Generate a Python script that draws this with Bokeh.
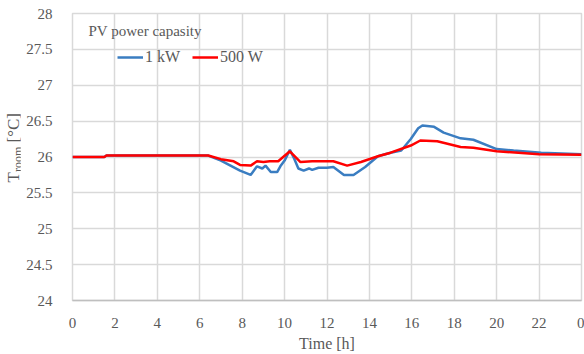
from bokeh.plotting import figure
from bokeh.models import Legend, LegendItem, Label, FixedTicker, Range1d, Div
from bokeh.layouts import row
from bokeh.embed import file_html
from bokeh.resources import INLINE

# ---- data ----
t_1kw = [0, 1.5, 1.6, 6.4, 7.0, 7.45, 7.9, 8.4, 8.7, 8.95, 9.1, 9.35, 9.65, 9.8,
         10.0, 10.25, 10.45, 10.65, 10.9, 11.15, 11.3, 11.6, 12.0, 12.3, 12.8,
         13.25, 13.8, 14.4, 15.0, 15.5, 15.95, 16.3, 16.5, 17.05, 17.5, 18.3,
         18.9, 20.0, 20.8, 22.1, 24.0]
T_1kw = [26.00, 26.00, 26.02, 26.02, 25.95, 25.88, 25.81, 25.75, 25.87, 25.84,
         25.88, 25.79, 25.79, 25.87, 25.95, 26.10, 25.98, 25.84, 25.81, 25.84,
         25.82, 25.85, 25.85, 25.86, 25.75, 25.75, 25.86, 26.01, 26.06, 26.09,
         26.25, 26.40, 26.44, 26.42, 26.34, 26.26, 26.24, 26.11, 26.09, 26.06,
         26.04]

t_500w = [0, 1.5, 1.6, 6.4, 7.0, 7.6, 7.9, 8.4, 8.7, 9.0, 9.3, 9.7, 10.25,
          10.75, 11.3, 12.3, 12.95, 13.6, 14.4, 15.0, 15.95, 16.4, 17.2, 18.3,
          18.9, 20.0, 22.0, 24.0]
T_500w = [26.00, 26.00, 26.02, 26.02, 25.97, 25.94, 25.89, 25.88, 25.94, 25.93,
          25.94, 25.94, 26.08, 25.93, 25.94, 25.94, 25.88, 25.93, 26.01, 26.06,
          26.16, 26.23, 26.22, 26.14, 26.13, 26.08, 26.04, 26.03]

x_ticks = [0, 2, 4, 6, 8, 10, 12, 14, 16, 18, 20, 22, 24]
x_tick_labels = ["0", "2", "4", "6", "8", "10", "12", "14", "16", "18", "20", "22", "0"]
y_ticks = [24, 24.5, 25, 25.5, 26, 26.5, 27, 27.5, 28]
y_tick_labels = ["24", "24.5", "25", "25.5", "26", "26.5", "27", "27.5", "28"]
series_names = ["1 kW", "500 W"]
legend_title = "PV power capasity"
x_label = "Time [h]"

FONT = "Liberation Serif"
GREY = "#595959"
LEFT_W = 20

p = figure(width=584 - LEFT_W, height=354, output_backend="svg", toolbar_location=None,
           x_range=Range1d(0, 24), y_range=Range1d(24, 28))
p.min_border_left = 72 - LEFT_W
p.min_border_right = 3
p.min_border_top = 13
p.min_border_bottom = 51
p.outline_line_color = "#d9d9d9"
p.outline_line_width = 1.5

xa = p.xaxis[0]
ya = p.yaxis[0]
xa.ticker = FixedTicker(ticks=x_ticks)
ya.ticker = FixedTicker(ticks=y_ticks)
xa.major_label_overrides = dict(zip(x_ticks, x_tick_labels))
ya.major_label_overrides = dict(zip(y_ticks, y_tick_labels))

for ax in (xa, ya):
    ax.major_tick_line_color = None
    ax.minor_tick_line_color = None
    ax.major_label_text_font = FONT
    ax.major_label_text_font_size = "15px"
    ax.major_label_text_color = GREY
    ax.axis_label_text_font = FONT
    ax.axis_label_text_font_style = "normal"
    ax.axis_label_text_color = GREY
xa.axis_line_color = "#bfbfbf"
xa.axis_line_width = 1.5
ya.axis_line_color = None
xa.major_label_standoff = 11
ya.major_label_standoff = 14
xa.axis_label = x_label
xa.axis_label_text_font_size = "16px"
xa.axis_label_standoff = 4

p.grid.grid_line_color = "#d9d9d9"
p.grid.grid_line_width = 1.5

r1 = p.line(t_1kw, T_1kw, line_color="#3a7dc1", line_width=2.5)
r2 = p.line(t_500w, T_500w, line_color="#ff0000", line_width=2.5)

legend = Legend(items=[LegendItem(label=series_names[0], renderers=[r1]),
                       LegendItem(label=series_names[1], renderers=[r2])],
                orientation="horizontal", location=(45, 233),
                border_line_color=None, background_fill_alpha=0,
                padding=0, margin=0, spacing=12, label_standoff=2,
                glyph_width=26, label_text_font=FONT, label_text_font_size="16px",
                label_text_color=GREY)
p.add_layout(legend)

p.add_layout(Label(x=16, y=290 - 20, x_units="screen", y_units="screen",
                   text=legend_title, text_font=FONT, text_font_size="15px",
                   text_color=GREY, text_baseline="alphabetic"))

ylabel = Div(
    text=('<div style="writing-mode: vertical-rl; transform: rotate(180deg); '
          'margin-top: 113px; margin-left: 5px; white-space: nowrap; '
          "font-family: 'Liberation Serif'; font-size: 17px; color: #595959; "
          'line-height: 18px;">T<sub style="font-size: 12px;">room</sub> [°C]</div>'),
    width=LEFT_W, height=354, margin=0)

layout = row(ylabel, p, spacing=0)

open("out.html", "w").write(file_html(layout, INLINE))
